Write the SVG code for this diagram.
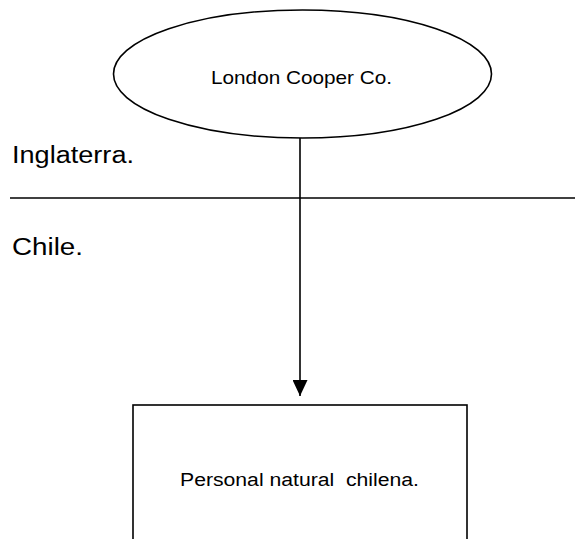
<svg xmlns="http://www.w3.org/2000/svg" width="575" height="539" viewBox="0 0 575 539">
<style>
.s{fill:none;stroke:#000;stroke-width:1.6}
.t{font-family:"Liberation Sans",Arial,sans-serif;fill:#000}
</style>
<defs>
<marker id="ah" markerWidth="16" markerHeight="15" refX="16" refY="7.5" orient="auto" markerUnits="userSpaceOnUse" viewBox="0 0 16 15">
<path d="M0,0 L16,7.5 L0,15 Z" fill="#000"/>
</marker>
</defs>
<rect width="575" height="539" fill="#fff"/>
<g id="divider">
<line class="s" x1="10" y1="198" x2="575" y2="198"/>
<text class="t" x="12" y="163" font-size="23" textLength="122" lengthAdjust="spacingAndGlyphs">Inglaterra.</text>
<text class="t" x="12" y="255" font-size="23" textLength="71" lengthAdjust="spacingAndGlyphs">Chile.</text>
</g>
<g id="connectors">
<line class="s" x1="300" y1="138" x2="300" y2="396" marker-end="url(#ah)"/>
</g>
<g id="london">
<ellipse class="s" cx="302.5" cy="74" rx="189" ry="64"/>
<text class="t" x="211" y="84" font-size="19" textLength="181" lengthAdjust="spacingAndGlyphs">London Cooper Co.</text>
</g>
<g id="persona">
<rect class="s" x="133" y="405" width="334" height="150"/>
<text class="t" x="180" y="486" font-size="18" textLength="239" lengthAdjust="spacingAndGlyphs" xml:space="preserve">Personal natural  chilena.</text>
</g>
</svg>
